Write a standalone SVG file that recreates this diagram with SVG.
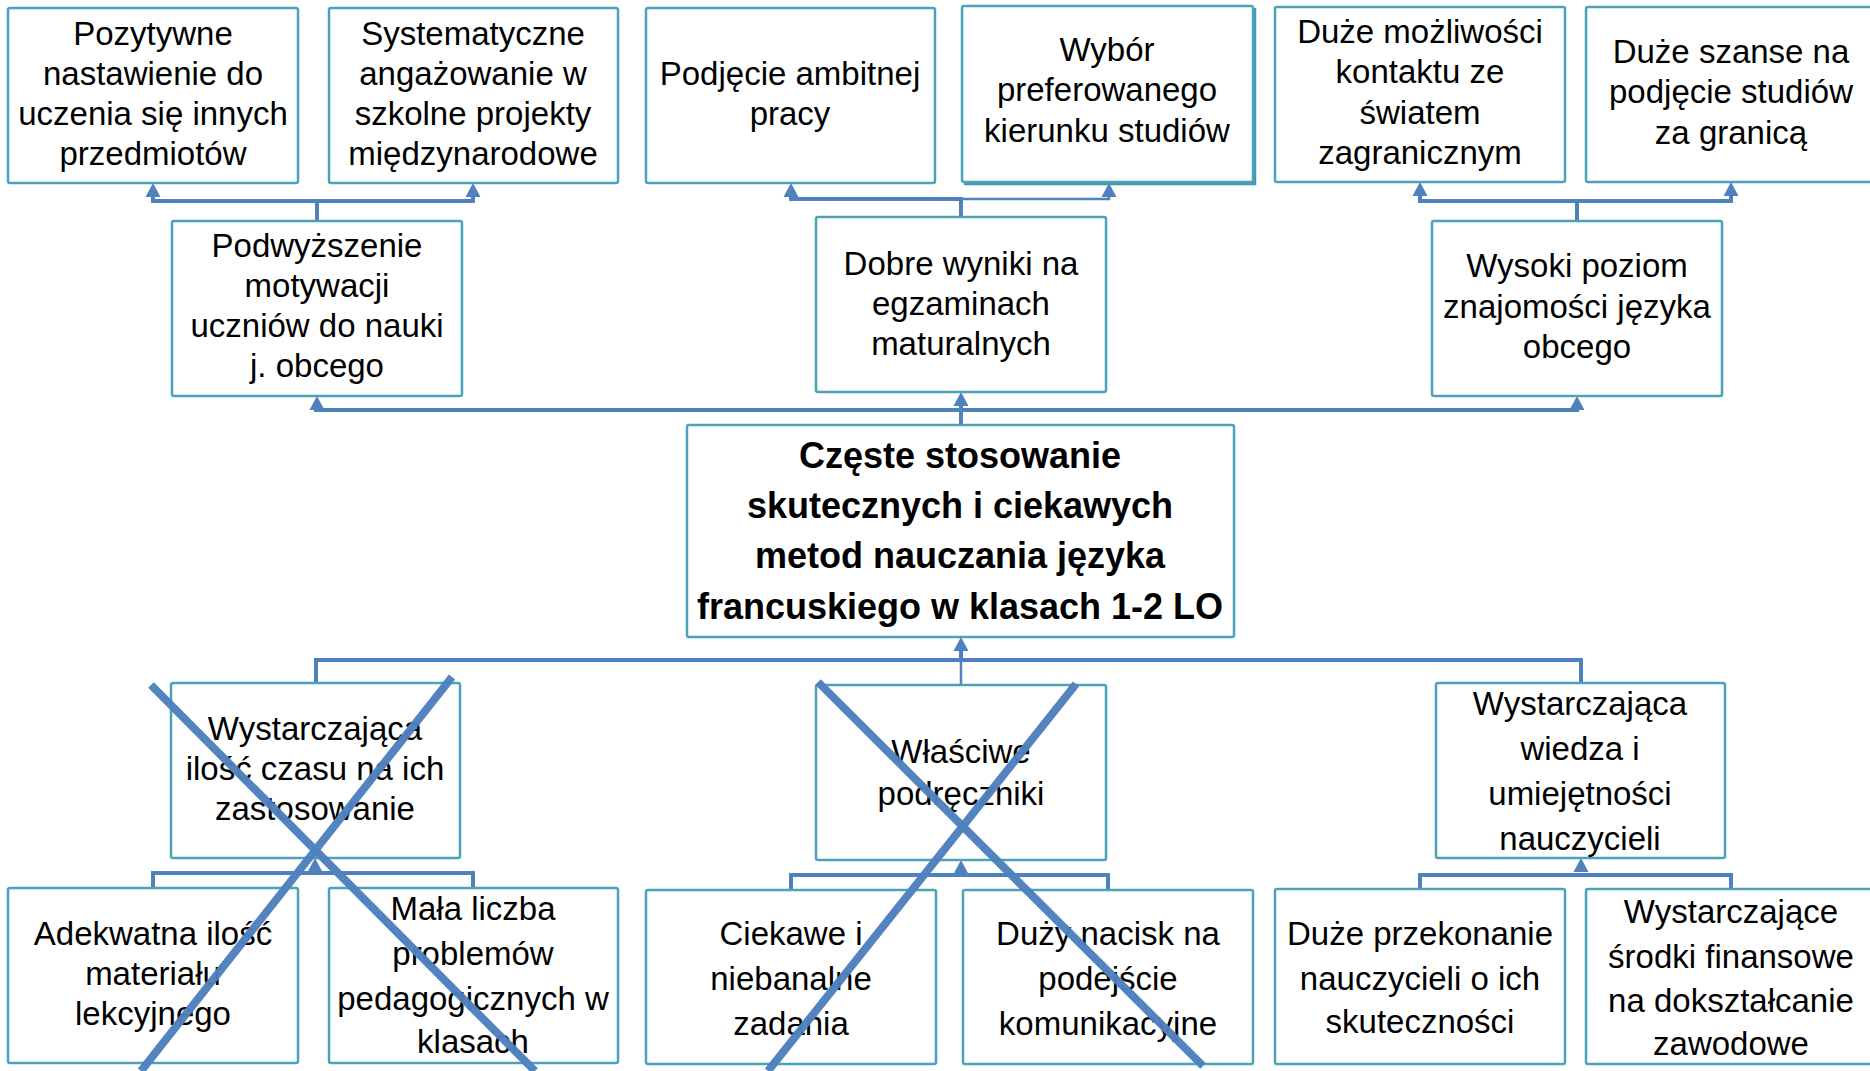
<svg xmlns="http://www.w3.org/2000/svg" xmlns:xlink="http://www.w3.org/1999/xlink" width="1870" height="1071" viewBox="0 0 1870 1071">
<style>
.box{fill:#fff;stroke:#4AA3BA;stroke-width:2.5}
.t{font-family:"Liberation Sans",Arial,sans-serif;font-size:33px;text-anchor:middle;fill:#000}
.b{font-family:"Liberation Sans",Arial,sans-serif;font-size:36px;font-weight:bold;text-anchor:middle;fill:#000}
.c{fill:none;stroke:#4F81BD;stroke-width:4}
.cthin{fill:none;stroke:#4F81BD;stroke-width:2.5}
.x{stroke:#4F81BD;stroke-width:8;stroke-linecap:butt;opacity:0.97}
.ah{fill:#4F81BD}
</style>
<defs>
<path id="up" class="ah" d="M0,0 L7.5,14 L-7.5,14 Z"/>
</defs>
<rect width="1870" height="1071" fill="#fff"/>

<g id="connectors">
<path class="c" d="M317,221 V201 H153 V196"/>
<path class="c" d="M317,201 H473 V196"/>
<use xlink:href="#up" x="153" y="183"/>
<use xlink:href="#up" x="473" y="183"/>

<path class="c" d="M961,217 V199 H791 V196"/>
<path class="cthin" d="M961,199 H1109 V196"/>
<use xlink:href="#up" x="791" y="183"/>
<use xlink:href="#up" x="1109" y="183"/>

<path class="c" d="M1577,221 V201 H1420 V196"/>
<path class="c" d="M1577,201 H1731 V196"/>
<use xlink:href="#up" x="1420" y="182"/>
<use xlink:href="#up" x="1731" y="182"/>

<path class="c" d="M316,409 V410 H1577 V409"/>
<path class="c" d="M961,425 V404"/>
<use xlink:href="#up" x="317" y="396"/>
<use xlink:href="#up" x="961" y="392"/>
<use xlink:href="#up" x="1577" y="396"/>

<path class="c" d="M316,683 V660 H1581 V683"/>
<path class="c" d="M961,660 V650"/>
<path class="cthin" d="M961,685 V660"/>
<use xlink:href="#up" x="961" y="637"/>

<path class="c" d="M153,888 V873 H473 V888"/>
<use xlink:href="#up" x="315" y="858"/>
<path class="c" d="M791,890 V875 H1108 V890"/>
<use xlink:href="#up" x="961" y="860"/>
<path class="c" d="M1420,889 V875 H1731 V889"/>
<use xlink:href="#up" x="1581" y="858"/>
</g>

<g id="n-pozytywne">
<rect class="box" x="8" y="8" width="290" height="175" rx="2"/>
<text class="t" x="153" y="45">Pozytywne</text>
<text class="t" x="153" y="85">nastawienie do</text>
<text class="t" x="153" y="125">uczenia się innych</text>
<text class="t" x="153" y="165">przedmiotów</text>
</g>
<g id="n-systematyczne">
<rect class="box" x="329" y="8" width="289" height="175" rx="2"/>
<text class="t" x="473" y="45">Systematyczne</text>
<text class="t" x="473" y="85">angażowanie w</text>
<text class="t" x="473" y="125">szkolne projekty</text>
<text class="t" x="473" y="165">międzynarodowe</text>
</g>
<g id="n-podjecie">
<rect class="box" x="646" y="8" width="289" height="175" rx="2"/>
<text class="t" x="790" y="85">Podjęcie ambitnej</text>
<text class="t" x="790" y="125">pracy</text>
</g>
<g id="n-wybor">
<path d="M964,183.5 H1254.5 V8" fill="none" stroke="#4398AF" stroke-width="3.5"/>
<rect class="box" x="962" y="6" width="291" height="176" rx="2"/>
<text class="t" x="1107" y="61">Wybór</text>
<text class="t" x="1107" y="101">preferowanego</text>
<text class="t" x="1107" y="142">kierunku studiów</text>
</g>
<g id="n-mozliwosci">
<rect class="box" x="1275" y="7" width="290" height="175" rx="2"/>
<text class="t" x="1420" y="43">Duże możliwości</text>
<text class="t" x="1420" y="83">kontaktu ze</text>
<text class="t" x="1420" y="124">światem</text>
<text class="t" x="1420" y="164">zagranicznym</text>
</g>
<g id="n-szanse">
<rect class="box" x="1586" y="7" width="292" height="175" rx="2"/>
<text class="t" x="1731" y="63">Duże szanse na</text>
<text class="t" x="1731" y="103">podjęcie studiów</text>
<text class="t" x="1731" y="144">za granicą</text>
</g>

<g id="n-podwyzszenie">
<rect class="box" x="172" y="221" width="290" height="175" rx="2"/>
<text class="t" x="317" y="257">Podwyższenie</text>
<text class="t" x="317" y="297">motywacji</text>
<text class="t" x="317" y="337">uczniów do nauki</text>
<text class="t" x="317" y="377">j. obcego</text>
</g>
<g id="n-dobre">
<rect class="box" x="816" y="217" width="290" height="175" rx="2"/>
<text class="t" x="961" y="275">Dobre wyniki na</text>
<text class="t" x="961" y="315">egzaminach</text>
<text class="t" x="961" y="355">maturalnych</text>
</g>
<g id="n-wysoki">
<rect class="box" x="1432" y="221" width="290" height="175" rx="2"/>
<text class="t" x="1577" y="277">Wysoki poziom</text>
<text class="t" x="1577" y="318">znajomości języka</text>
<text class="t" x="1577" y="358">obcego</text>
</g>

<g id="n-center">
<rect class="box" x="687" y="425" width="547" height="212" rx="2"/>
<text class="b" x="960" y="468">Częste stosowanie</text>
<text class="b" x="960" y="518">skutecznych i ciekawych</text>
<text class="b" x="960" y="568">metod nauczania języka</text>
<text class="b" x="960" y="619">francuskiego w klasach 1-2 LO</text>
</g>

<g id="n-czas">
<rect class="box" x="171" y="683" width="289" height="175" rx="2"/>
<text class="t" x="315" y="740">Wystarczająca</text>
<text class="t" x="315" y="780">ilość czasu na ich</text>
<text class="t" x="315" y="820">zastosowanie</text>
</g>
<g id="n-podreczniki">
<rect class="box" x="816" y="685" width="290" height="175" rx="2"/>
<text class="t" x="961" y="763">Właściwe</text>
<text class="t" x="961" y="805">podręczniki</text>
</g>
<g id="n-wiedza">
<rect class="box" x="1436" y="683" width="289" height="175" rx="2"/>
<text class="t" x="1580" y="715">Wystarczająca</text>
<text class="t" x="1580" y="760">wiedza i</text>
<text class="t" x="1580" y="805">umiejętności</text>
<text class="t" x="1580" y="850">nauczycieli</text>
</g>

<g id="n-adekwatna">
<rect class="box" x="8" y="888" width="290" height="175" rx="2"/>
<text class="t" x="153" y="945">Adekwatna ilość</text>
<text class="t" x="153" y="985">materiału</text>
<text class="t" x="153" y="1025">lekcyjnego</text>
</g>
<g id="n-mala">
<rect class="box" x="329" y="888" width="289" height="175" rx="2"/>
<text class="t" x="473" y="920">Mała liczba</text>
<text class="t" x="473" y="965">problemów</text>
<text class="t" x="473" y="1010">pedagogicznych w</text>
<text class="t" x="473" y="1053">klasach</text>
</g>
<g id="n-ciekawe">
<rect class="box" x="646" y="890" width="290" height="174" rx="2"/>
<text class="t" x="791" y="945">Ciekawe i</text>
<text class="t" x="791" y="990">niebanalne</text>
<text class="t" x="791" y="1035">zadania</text>
</g>
<g id="n-nacisk">
<rect class="box" x="963" y="890" width="290" height="174" rx="2"/>
<text class="t" x="1108" y="945">Duży nacisk na</text>
<text class="t" x="1108" y="990">podejście</text>
<text class="t" x="1108" y="1035">komunikacyjne</text>
</g>
<g id="n-przekonanie">
<rect class="box" x="1275" y="889" width="290" height="175" rx="2"/>
<text class="t" x="1420" y="945">Duże przekonanie</text>
<text class="t" x="1420" y="990">nauczycieli o ich</text>
<text class="t" x="1420" y="1033">skuteczności</text>
</g>
<g id="n-srodki">
<rect class="box" x="1586" y="889" width="292" height="175" rx="2"/>
<text class="t" x="1731" y="923">Wystarczające</text>
<text class="t" x="1731" y="968">środki finansowe</text>
<text class="t" x="1731" y="1012">na dokształcanie</text>
<text class="t" x="1731" y="1055">zawodowe</text>
</g>

<g id="strikes">
<line class="x" x1="151" y1="685" x2="535" y2="1071"/>
<line class="x" x1="452" y1="677" x2="141" y2="1071"/>
<line class="x" x1="818" y1="682" x2="1203" y2="1066"/>
<line class="x" x1="1076" y1="684" x2="768" y2="1071"/>
</g>
</svg>
